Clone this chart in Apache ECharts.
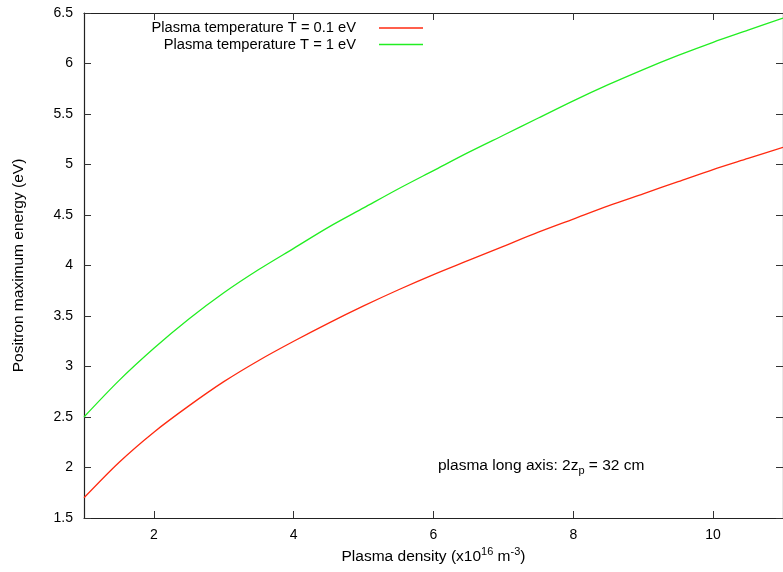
<!DOCTYPE html>
<html>
<head>
<meta charset="utf-8">
<script src="https://cdn.jsdelivr.net/npm/echarts@6/dist/echarts.min.js"></script>
<style>html,body{margin:0;padding:0;background:#fff}#c{width:783px;height:572px}</style>
</head>
<body>
<div id="c"></div>
<script>
const density = [1, 1.5, 2, 2.5, 3, 3.5, 4, 4.5, 5, 5.5, 6, 6.5, 7, 7.5, 8, 8.5, 9, 9.5, 10, 10.5, 11];
const energyT01 = [1.70, 2.05, 2.35, 2.61, 2.85, 3.06, 3.25, 3.43, 3.60, 3.76, 3.91, 4.05, 4.19, 4.33, 4.46, 4.59, 4.71, 4.83, 4.95, 5.06, 5.17];
const energyT1 = [2.50, 2.86, 3.18, 3.47, 3.73, 3.96, 4.17, 4.38, 4.57, 4.76, 4.94, 5.12, 5.29, 5.46, 5.63, 5.79, 5.94, 6.08, 6.21, 6.33, 6.45];
const xTicks = [2, 4, 6, 8, 10];
const yTicks = [1.5, 2, 2.5, 3, 3.5, 4, 4.5, 5, 5.5, 6, 6.5];
const seriesNames = ['Plasma temperature T = 0.1 eV', 'Plasma temperature T = 1 eV'];

const FONT = 'Liberation Sans, Arial, sans-serif';
const chart = echarts.init(document.getElementById('c'), null, {renderer: 'canvas'});

const axisCommon = {
  axisLine: {show: true, lineStyle: {color: '#222', width: 1.2}},
  axisTick: {show: true, inside: true, length: 7, lineStyle: {color: '#333', width: 1}},
  splitLine: {show: false}
};

const legendCommon = {
  orient: 'horizontal', align: 'right', right: 360, padding: 0,
  itemWidth: 44, itemHeight: 14, icon: 'path://M0,7L44,7L44,8.3L0,8.3Z',
  formatter: name => '{t|' + name + '}{g| }',
  textStyle: {
    fontFamily: FONT, fontSize: 14.7, color: '#000',
    rich: {t: {fontFamily: FONT, fontSize: 14.7, color: '#000'}, g: {width: 18, fontSize: 14}}
  },
  selectedMode: false
};

chart.setOption({
  animation: false,
  backgroundColor: '#fff',
  grid: {left: 84, right: -9, top: 13, bottom: 54, containLabel: false},
  legend: [
    Object.assign({}, legendCommon, {top: 20.5, data: [seriesNames[0]]}),
    Object.assign({}, legendCommon, {top: 37, data: [seriesNames[1]]})
  ],
  xAxis: [
    Object.assign({}, axisCommon, {
      type: 'value', min: 1, max: 11, interval: 1,
      axisTick: Object.assign({}, axisCommon.axisTick, {customValues: xTicks}),
      axisLabel: {customValues: xTicks, fontFamily: FONT, fontSize: 14, color: '#000', margin: 10},
      name: '{n|Plasma density (x10}{s|16}{n| m}{s|-3}{n|)}',
      nameLocation: 'middle', nameGap: 24,
      nameTextStyle: {
        rich: {
          n: {fontFamily: FONT, fontSize: 15.5, color: '#000', verticalAlign: 'bottom', lineHeight: 19},
          s: {fontFamily: FONT, fontSize: 11, color: '#000', verticalAlign: 'bottom', lineHeight: 19, padding: [0, 0, 7, 0]}
        }
      }
    }),
    Object.assign({}, axisCommon, {
      type: 'value', min: 1, max: 11, position: 'top',
      axisTick: Object.assign({}, axisCommon.axisTick, {customValues: xTicks}),
      axisLabel: {show: false}
    })
  ],
  yAxis: [
    Object.assign({}, axisCommon, {
      type: 'value', min: 1.5, max: 6.5, interval: 0.5,
      axisLabel: {fontFamily: FONT, fontSize: 14, color: '#000', margin: 11,
        formatter: v => String(+v.toFixed(1))},
      name: 'Positron maximum energy (eV)',
      nameLocation: 'middle', nameGap: 57,
      nameTextStyle: {fontFamily: FONT, fontSize: 15.5, color: '#000'}
    }),
    Object.assign({}, axisCommon, {
      type: 'value', min: 1.5, max: 6.5, interval: 0.5, position: 'right',
      axisLabel: {show: false}
    })
  ],
  series: [
    {
      name: seriesNames[0], type: 'line', smooth: 0.3, showSymbol: false,
      data: density.map((d, i) => [d, energyT01[i]]),
      lineStyle: {color: '#ff2a10', width: 1.3}, itemStyle: {color: '#ff2a10'}
    },
    {
      name: seriesNames[1], type: 'line', smooth: 0.3, showSymbol: false,
      data: density.map((d, i) => [d, energyT1[i]]),
      lineStyle: {color: '#22ee22', width: 1.3}, itemStyle: {color: '#22ee22'}
    }
  ],
  graphic: [
    {
      type: 'text', left: 438, top: 458,
      style: {
        text: '{n|plasma long axis: 2z}{b|p}{n| = 32 cm}',
        rich: {
          n: {fontFamily: FONT, fontSize: 15.5, fill: '#000', verticalAlign: 'top', lineHeight: 20},
          b: {fontFamily: FONT, fontSize: 11, fill: '#000', verticalAlign: 'top', lineHeight: 20, padding: [7, 0, 0, 0]}
        }
      }
    }
  ]
});
</script>
</body>
</html>
